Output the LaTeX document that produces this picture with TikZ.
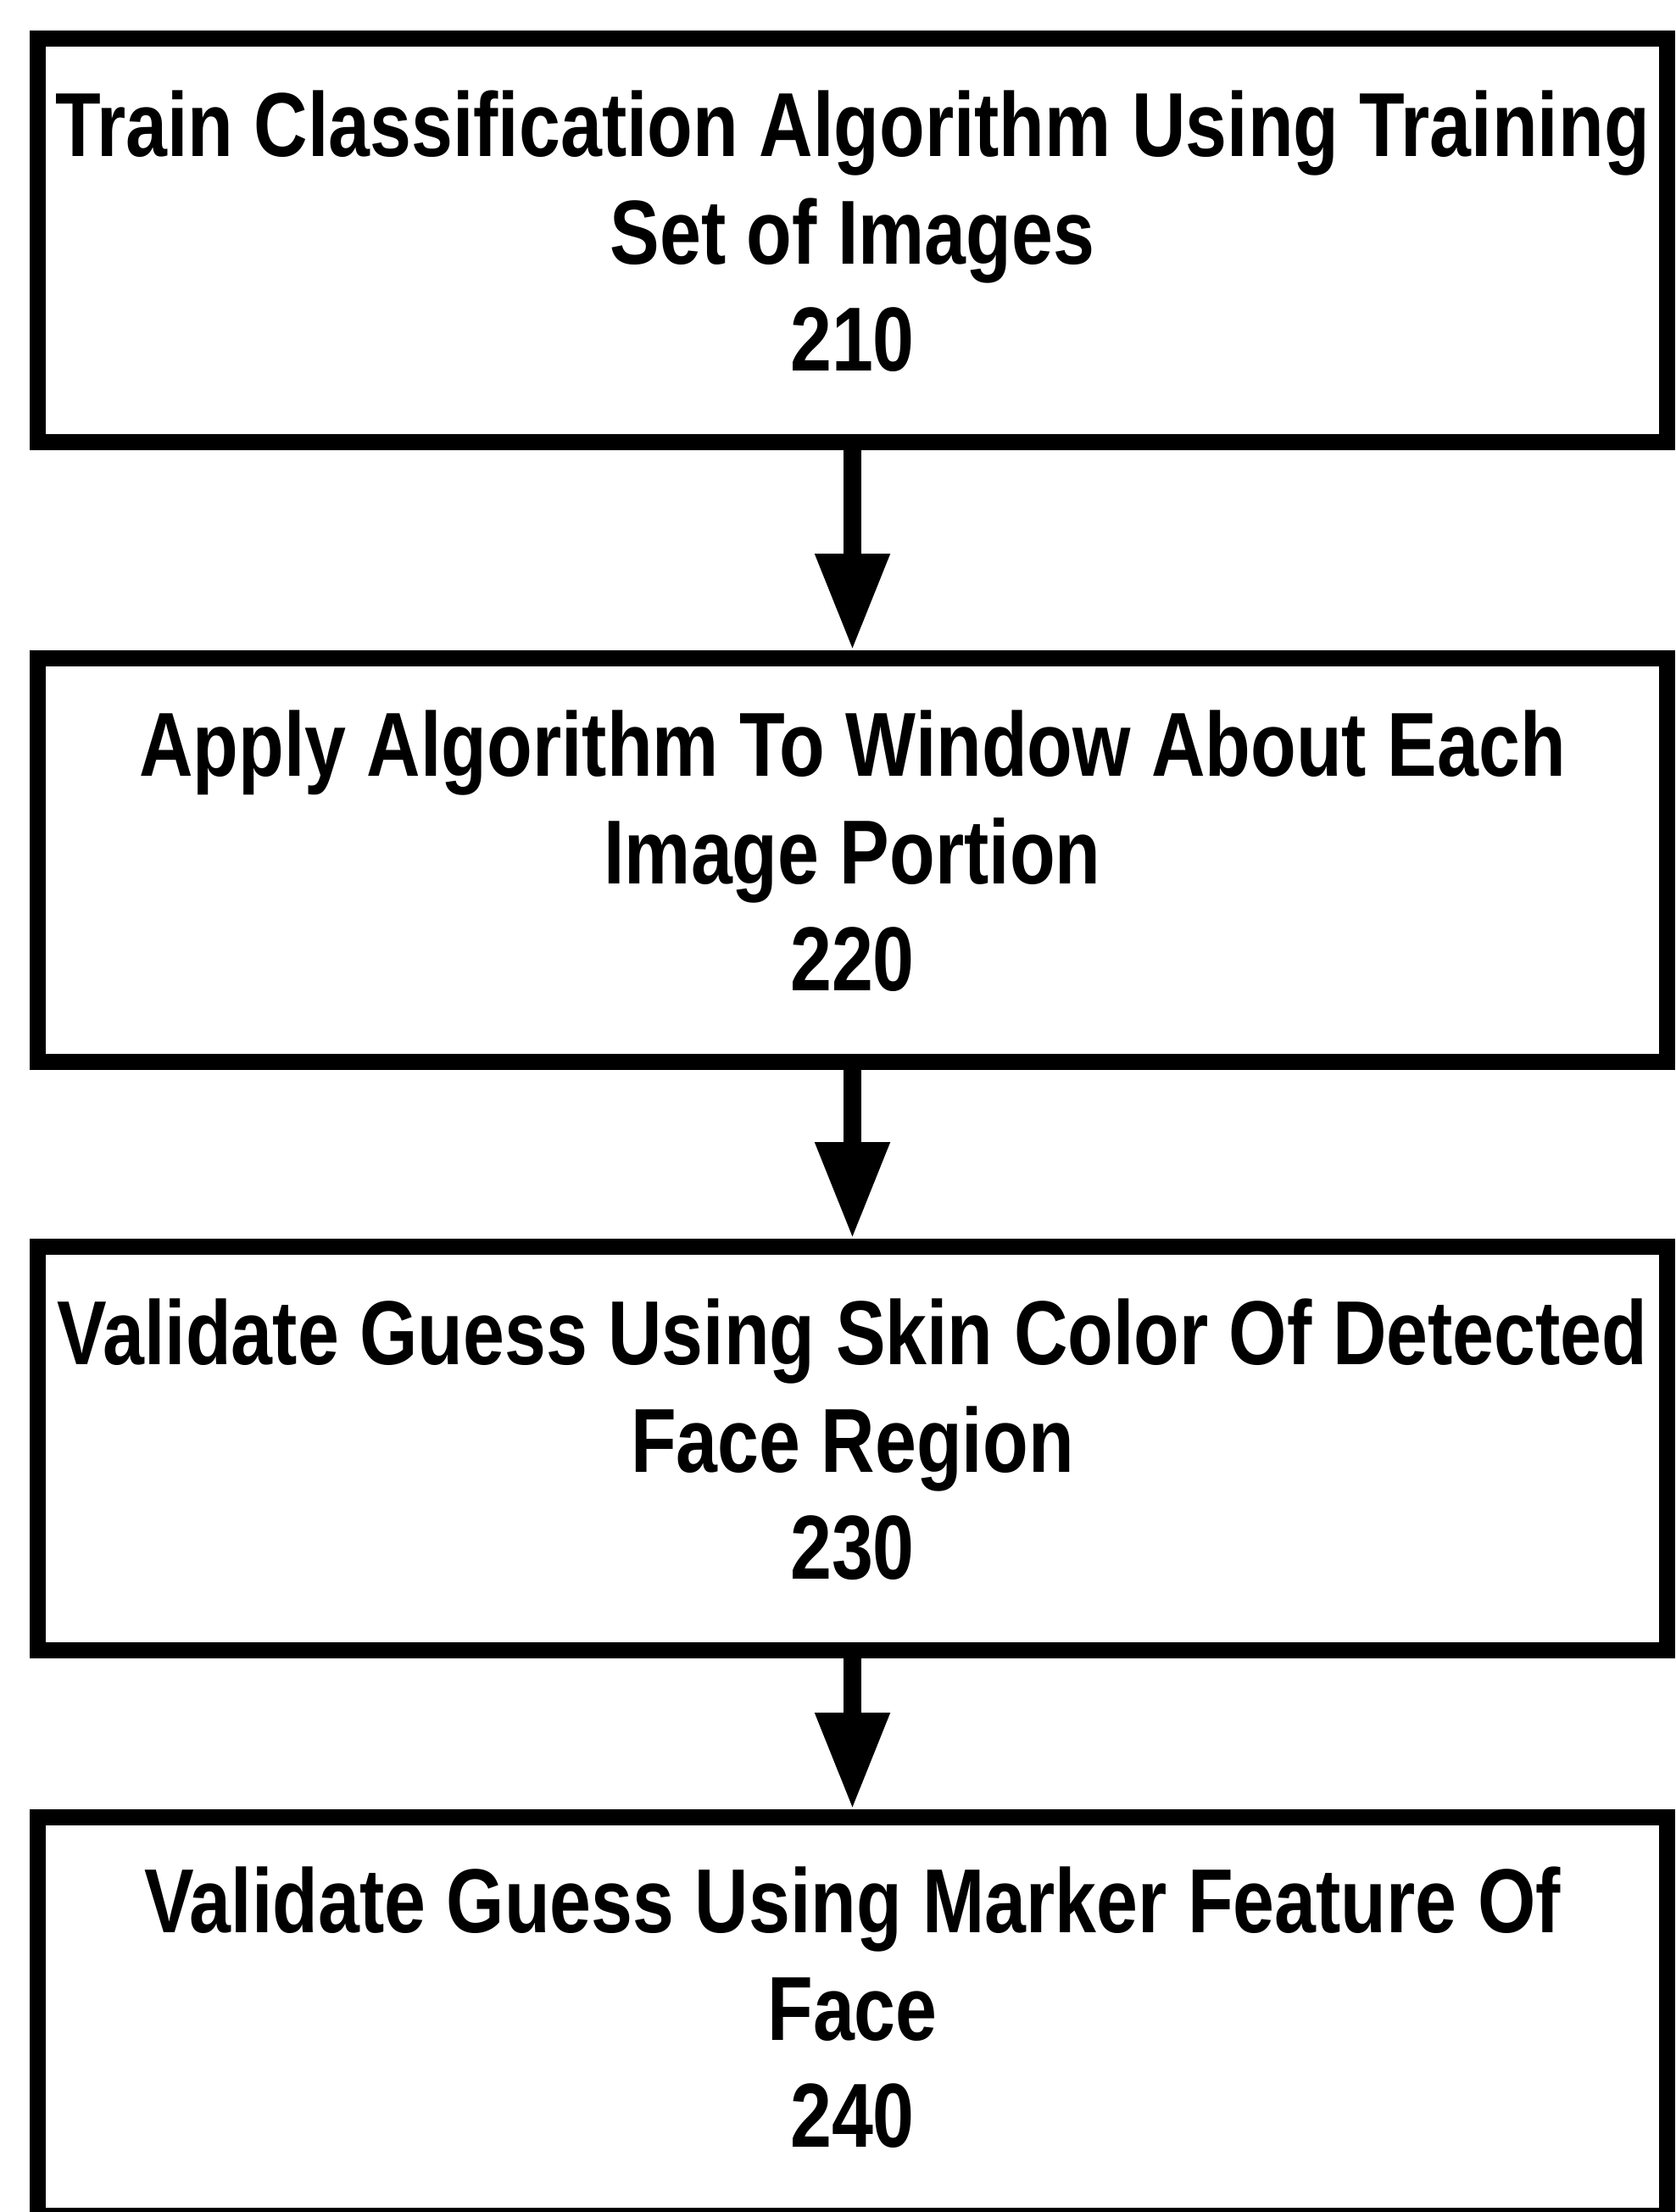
\documentclass[tikz,border=0pt]{standalone}
\usepackage{fontspec}
\setmainfont{Liberation Sans}[FakeStretch=0.82]
\usepackage{tikz}
\usetikzlibrary{arrows.meta, positioning}

\begin{document}
\begin{tikzpicture}
	
	\tikzset{stepblock/.style={
			draw,
			line width=0.19cm,
			minimum width=19.21cm,
			minimum height=#1,
			align=center,
			inner sep=0pt,
			text depth=0.22cm,
			font=\fontsize{30.5}{36}\selectfont\bfseries
		},
		stepblock/.default=4.76cm,
		flowarrow/.style={
			line width=0.21cm,
			-{Triangle[length=1.14cm, width=0.83cm]}
		}
	}
	
	\useasboundingbox (0,0) rectangle (19.77,-26.09);
	
	\node[stepblock] (train) at (10.055,-2.835) {Train Classification Algorithm Using Training\\Set of Images\\210};
	\node[stepblock, below=2.36cm of train] (apply) {Apply Algorithm To Window About Each\\Image Portion\\220};
	\node[stepblock, below=1.99cm of apply] (skin) {Validate Guess Using Skin Color Of Detected\\Face Region\\230};
	\node[stepblock=4.70cm, below=1.78cm of skin] (marker) {Validate Guess Using Marker Feature Of\\Face\\240};
	
	\draw[flowarrow] (train) -- (apply);
	\draw[flowarrow] (apply) -- (skin);
	\draw[flowarrow] (skin) -- (marker);
	
\end{tikzpicture}
\end{document}
